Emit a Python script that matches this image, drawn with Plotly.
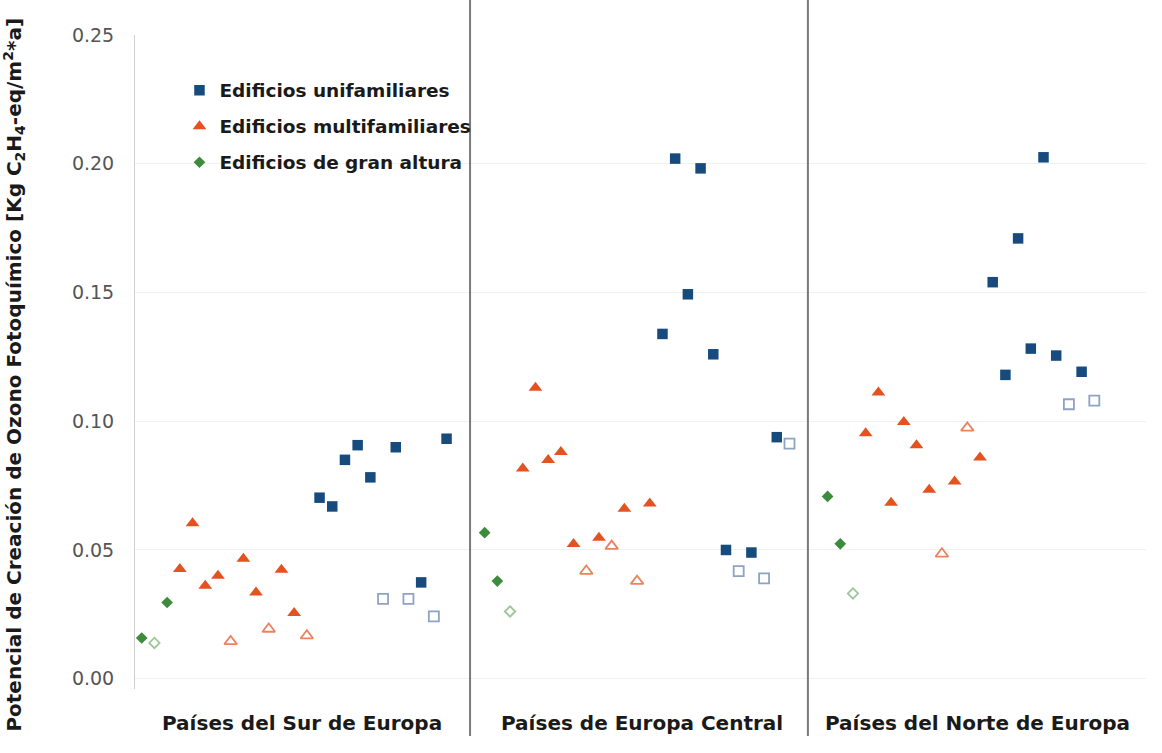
import plotly.graph_objects as go

# ---------------- data ----------------
REGIONS = ["Países del Sur de Europa", "Países de Europa Central", "Países del Norte de Europa"]
REGION_OFFSET = [0, 27, 54]          # slot where each region starts

SERIES_NAMES = ["Edificios unifamiliares", "Edificios multifamiliares", "Edificios de gran altura"]

# Edificios unifamiliares (filled)
uni_slots = [[14, 15, 16, 17, 18, 20, 22, 24],
             [14, 15, 16, 17, 18, 19, 21, 23],
             [13, 14, 15, 16, 17, 18, 20]]
uni_vals = [[0.0703, 0.0669, 0.0850, 0.0907, 0.0782, 0.0899, 0.0374, 0.0932],
            [0.1339, 0.2020, 0.1493, 0.1982, 0.1260, 0.0500, 0.0490, 0.0938],
            [0.1540, 0.1180, 0.1710, 0.1282, 0.2025, 0.1255, 0.1192]]
# Edificios unifamiliares (open)
uni_open_slots = [[19, 21, 23], [20, 22, 24], [19, 21]]
uni_open_vals = [[0.0310, 0.0310, 0.0242], [0.0418, 0.0390, 0.0913], [0.1066, 0.1080]]

# Edificios multifamiliares (filled)
multi_slots = [[3, 4, 5, 6, 8, 9, 11, 12],
               [3, 4, 5, 6, 7, 9, 11, 13],
               [3, 4, 5, 6, 7, 8, 10, 12]]
multi_vals = [[0.0426, 0.0604, 0.0361, 0.0400, 0.0466, 0.0335, 0.0423, 0.0255],
              [0.0816, 0.1130, 0.0849, 0.0880, 0.0523, 0.0547, 0.0660, 0.0680],
              [0.0953, 0.1112, 0.0683, 0.0997, 0.0907, 0.0734, 0.0766, 0.0859]]
# Edificios multifamiliares (open)
multi_open_slots = [[7, 10, 13], [8, 10, 12], [9, 11]]
multi_open_vals = [[0.0145, 0.0193, 0.0167], [0.0418, 0.0515, 0.0379], [0.0485, 0.0974]]

# Edificios de gran altura (filled)
alta_slots = [[0, 2], [0, 1], [0, 1]]
alta_vals = [[0.0158, 0.0296], [0.0567, 0.0379], [0.0708, 0.0524]]
# Edificios de gran altura (open)
alta_open_slots = [[1], [2], [2]]
alta_open_vals = [[0.0139], [0.0261], [0.0331]]

Y_TICKS = [0.00, 0.05, 0.10, 0.15, 0.20, 0.25]
Y_TICK_LABELS = ["0.00", "0.05", "0.10", "0.15", "0.20", "0.25"]
Y_TITLE = "Potencial de Creación de Ozono Fotoquímico [Kg C<sub>2</sub>H<sub>4</sub>-eq/m<sup>2</sup>*a]"

# ---------------- helpers ----------------
def flat(slots, vals):
    xs, ys = [], []
    for r, (s, v) in enumerate(zip(slots, vals)):
        xs += [REGION_OFFSET[r] + k for k in s]
        ys += list(v)
    return xs, ys

BLUE = "#174b7e"
BLUE_OPEN = "#8ea3c4"
ORANGE = "#e4531f"
ORANGE_OPEN = "#ec825e"
GREEN = "#3d8b3d"
GREEN_OPEN = "#9cc79a"

FONT = "DejaVu Sans, Arial, Helvetica, sans-serif"

fig = go.Figure()

specs = [
    (uni_slots, uni_vals, SERIES_NAMES[0], "square", BLUE, None, 10.5, True, "g1"),
    (uni_open_slots, uni_open_vals, SERIES_NAMES[0], "square", "white", BLUE_OPEN, 10, False, "g1"),
    (multi_slots, multi_vals, SERIES_NAMES[1], "triangle-up", ORANGE, None, 12, True, "g2"),
    (multi_open_slots, multi_open_vals, SERIES_NAMES[1], "triangle-up", "white", ORANGE_OPEN, 11, False, "g2"),
    (alta_slots, alta_vals, SERIES_NAMES[2], "diamond", GREEN, None, 9, True, "g3"),
    (alta_open_slots, alta_open_vals, SERIES_NAMES[2], "diamond", "white", GREEN_OPEN, 8, False, "g3"),
]
for slots, vals, name, sym, col, lcol, size, show, grp in specs:
    xs, ys = flat(slots, vals)
    marker = dict(symbol=sym, size=size, color=col)
    if lcol:
        marker["line"] = dict(color=lcol, width=1.8)
    else:
        marker["line"] = dict(width=0)
    fig.add_trace(go.Scatter(x=xs, y=ys, mode="markers", name=name, marker=marker,
                             showlegend=show, legendgroup=grp, hoverinfo="x+y"))

# separators between regions
for xv in [25.85, 52.45]:
    fig.add_shape(type="line", xref="x", yref="paper", x0=xv, x1=xv, y0=-0.072, y1=1.06,
                  line=dict(color="#7a7a7a", width=2), layer="above")

# region labels
centers = [12.64, 39.38, 65.78]
for lab, cx in zip(REGIONS, centers):
    fig.add_annotation(x=cx, xref="x", y=0, yref="paper", yshift=-34, text=lab,
                       showarrow=False, xanchor="center", yanchor="middle",
                       font=dict(family=FONT, size=20, color="#1a1a1a", weight="bold"))

# y-axis title
fig.add_annotation(x=-0.1195, xref="paper", y=0.481, yref="paper", text=Y_TITLE,
                   textangle=-90, showarrow=False, xanchor="center", yanchor="middle",
                   font=dict(family=FONT, size=20, color="#1a1a1a", weight="bold"))

fig.update_layout(
    width=1162, height=753,
    margin=dict(l=135, r=16, t=35, b=64),
    paper_bgcolor="white", plot_bgcolor="white",
    showlegend=True,
    legend=dict(x=0.044, y=0.944, xanchor="left", yanchor="top",
                font=dict(family=FONT, size=18.5, color="#1a1a1a", weight="bold"),
                bgcolor="rgba(255,255,255,0)", tracegroupgap=9, itemwidth=30),
    xaxis=dict(range=[-0.53, 79.07], showgrid=False, zeroline=False, showline=False,
               showticklabels=False, ticks=""),
    yaxis=dict(range=[-0.004, 0.25], tickvals=Y_TICKS, ticktext=Y_TICK_LABELS,
               showgrid=True, gridcolor="#f1f1f1", gridwidth=1, zeroline=False,
               showline=True, linecolor="#d0d0d0", linewidth=1, ticks="",
               ticklabelstandoff=16,
               tickfont=dict(family=FONT, size=19, color="#555555")),
)

# remove the default 8px page margin so the figure fills the window exactly
fig.write_html("out.html", config={"displayModeBar": False},
               post_script="document.body.style.margin='0';document.body.style.overflow='hidden';")
